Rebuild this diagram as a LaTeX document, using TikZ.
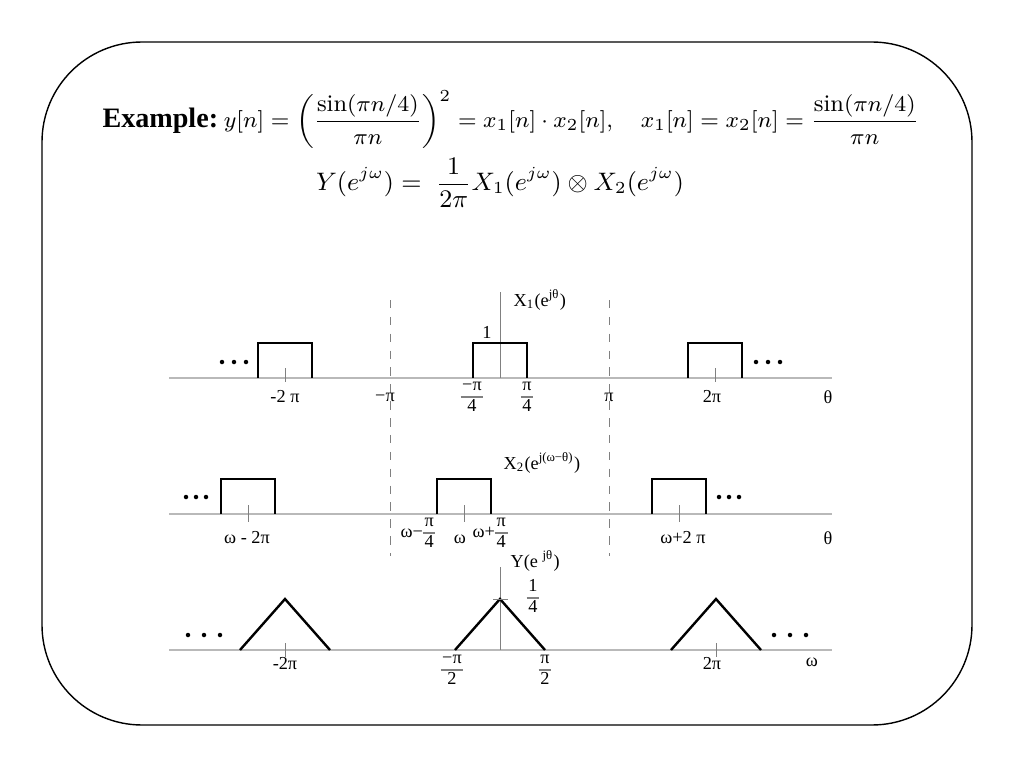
\documentclass[tikz,border=0pt]{standalone}
\usepackage{amsmath}
\usepackage{colortbl}
\usepackage{fontspec}
\newfontfamily\tms{Liberation Serif}
\newcommand\fr[2]{\arrayrulecolor{gray}\begin{tabular}{@{\hspace{0.6pt}}c@{\hspace{0.6pt}}}#1\\\hline #2\end{tabular}}
\begin{document}
\begin{tikzpicture}[x=0.125mm,y=-0.125mm,
    axis/.style={gray!55,line width=0.6pt},
    pulse/.style={line width=0.85pt},
    tck/.style={gray,line width=0.35pt},
    lbl/.style={font=\tms\fontsize{6.5}{7}\selectfont,inner sep=0pt},
    eqn/.style={font=\fontsize{8.5}{10}\selectfont,inner sep=0pt}]
    \useasboundingbox (0,0) rectangle (1024,768);
    \draw[line width=0.5pt,rounded corners=12.5mm] (42,42) rectangle (972,725);

    % formulas
    \node[eqn,anchor=west] (ex) at (102,120) {{\tms\fontsize{10}{12}\selectfont\bfseries Example:}\hspace{2pt}$\displaystyle y[n]=\left(\frac{\sin(\pi n/4)}{\pi n}\right)^2=x_1[n]\cdot x_2[n],\quad x_1[n]=x_2[n]=\frac{\sin(\pi n/4)}{\pi n}$};
    \node[eqn,font=\fontsize{8.7}{10}\selectfont] (conv) at (500,183) {$\displaystyle Y(e^{j\omega})=\;\frac{1}{2\pi}X_1(e^{j\omega})\otimes X_2(e^{j\omega})$};

    % X1
    \draw[axis] (169,378)--(832,378);
    \draw[tck] (500,292)--(500,378);
    \foreach \c in {285,500,715}
        \draw[pulse] (\c-27,378)--(\c-27,343)--(\c+27,343)--(\c+27,378);
    \foreach \c in {285,715}
        \draw[tck] (\c,368)--(\c,382);
    \draw[gray,dashed,line width=0.35pt] (390,300)--(390,556) (609,300)--(609,556);
    \node[lbl,anchor=west] (xa) at (513,300) {X\textsubscript{1}(e\textsuperscript{jθ})};
    \node[lbl] (one) at (487,332) {1};
    \node[lbl] (a1) at (285,397) {-2 π};
    \node[lbl] (a2) at (385,397) {−π};
    \node[lbl] (a3) at (472,397) {\fr{−π}{4}};
    \node[lbl] (a4) at (527,397) {\fr{π}{4}};
    \node[lbl] (a5) at (609,397) {π};
    \node[lbl] (a6) at (712,397) {2π};
    \node[lbl] (a7) at (828,397) {θ};
    \foreach \x in {222,234,246,756,768,780}
        \fill (\x,362) circle (0.8pt);

    % X2
    \draw[axis] (169,514)--(832,514);
    \foreach \c in {248,464,679}{
        \draw[pulse] (\c-27,514)--(\c-27,479)--(\c+27,479)--(\c+27,514);
        \draw[tck] (\c,505)--(\c,522);}
    \node[lbl,anchor=west] (xb) at (503,463) {X\textsubscript{2}(e\textsuperscript{j(ω−θ)})};
    \node[lbl,anchor=west] (b2) at (400,533) {ω−\fr{π}{4}};
    \node[lbl] (b1) at (247,538) {ω - 2π};
    \node[lbl] (b3) at (460,539) {ω};
    \node[lbl,anchor=west] (b4) at (472,533) {ω+\fr{π}{4}};
    \node[lbl] (b5) at (683,538) {ω+2 π};
    \node[lbl] (b6) at (828,538) {θ};
    \foreach \x in {186,196,206,719,729,739}
        \fill (\x,497) circle (0.8pt);

    % Y
    \draw[axis] (169,650)--(832,650);
    \draw[tck] (500,567)--(500,650);
    \foreach \c in {285,500,716}
        \draw[pulse] (\c-45,650)--(\c,599)--(\c+45,650);
    \foreach \c in {285,716}
        \draw[tck] (\c,643)--(\c,657);
    \draw[tck] (493,599)--(508,599);
    \node[lbl,anchor=west] (yc) at (510,561) {Y(e \textsuperscript{jθ})};
    \node[lbl] (q) at (533,598) {\fr{1}{4}};
    \node[lbl] (c1) at (285,664) {-2π};
    \node[lbl] (c2) at (452,670) {\fr{−π}{2}};
    \node[lbl] (c3) at (545,670) {\fr{π}{2}};
    \node[lbl] (c4) at (712,664) {2π};
    \node[lbl] (c5) at (812,662) {ω};
    \foreach \x in {188,204,220,774,790,806}
        \fill (\x,635) circle (0.8pt);
\end{tikzpicture}
\end{document}
